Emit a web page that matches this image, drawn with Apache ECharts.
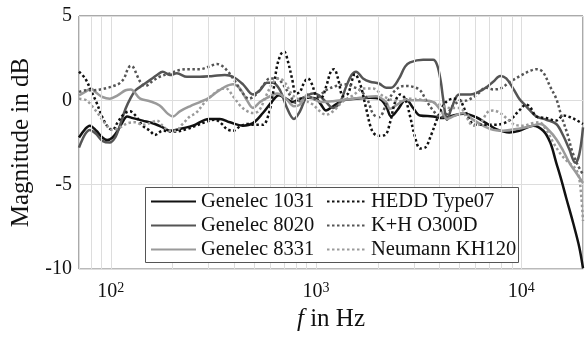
<!DOCTYPE html>
<html>
<head>
<meta charset="utf-8">
<script src="https://cdn.jsdelivr.net/npm/echarts@6/dist/echarts.min.js"></script>
<style>
  html, body { margin: 0; padding: 0; background: #fff; }
  #chart { width: 586px; height: 337px; }
</style>
</head>
<body>
<div id="chart"></div>
<script>
// [frequency in Hz, magnitude in dB]
const genelec1031 = [
  [70, -2.2], [75, -1.7], [79, -1.5], [85, -1.8], [91, -2.2], [96, -2.35], [102, -2.2], [108, -1.8],
  [114, -1.3], [120, -0.95], [128, -1.05], [143, -1.2], [164, -1.4], [179, -1.6], [194, -1.8],
  [217, -1.7], [251, -1.5], [301, -1.1], [340, -1.1], [381, -1.3], [440, -1.5], [493, -1.35],
  [551, -0.75], [617, 0], [660, 0.3], [714, 0.1], [772, -0.1], [835, 0.1], [914, 0.15], [1000, 0.1],
  [1058, -0.25], [1119, -0.6], [1211, -0.35], [1355, 0], [1567, 0.1], [1834, 0.15], [2028, 0.1],
  [2196, -0.35], [2323, -0.95], [2484, -0.6], [2748, 0.05], [2972, -0.45], [3215, -0.9], [3722, -0.95],
  [4164, -1.05], [4660, -0.9], [5212, -0.8], [6031, -1.0], [6749, -1.35], [7551, -1.7], [8738, -1.9],
  [9777, -1.8], [11443, -1.5], [12803, -1.8], [13850, -2.5], [14817, -3.7], [15670, -4.7],
  [16582, -5.8], [17939, -7.3], [19184, -8.7], [20000, -9.95]
];
const genelec8020 = [
  [70, -2.8], [75, -2.0], [79, -1.75], [85, -2.0], [91, -2.4], [99, -2.5], [105, -2.2], [110, -1.6],
  [118, -0.5], [125, 0.15], [132, 0.6], [139, 0.8], [155, 1.2], [168, 1.5], [179, 1.7], [194, 1.5],
  [210, 1.6], [235, 1.4], [272, 1.4], [315, 1.45], [360, 1.5], [394, 1.4], [441, 0.95], [493, 0.35],
  [533, 0.6], [577, 1.05], [617, 1.05], [668, 0.6], [722, -0.45], [781, -1.1], [835, -0.65],
  [894, 0.15], [967, 0.4], [1034, 0.3], [1119, -0.1], [1211, -0.45], [1310, -0.1], [1401, 0.8],
  [1490, 1.5], [1567, 1.7], [1695, 1.3], [1834, 1.1], [2028, 1.0], [2196, 0.75], [2323, 0.75],
  [2541, 1.3], [2717, 2.0], [2874, 2.25], [3326, 2.4], [3722, 2.4], [3890, 2.1], [4052, 1.15],
  [4164, 0.1], [4355, -1.15], [4580, -0.45], [4984, 0.35], [5637, 0.35], [6525, 0.65], [7302, 1.1],
  [7900, 1.45], [8450, 1.3], [9139, 0.7], [9777, 0.1], [10578, -0.35], [11835, -0.95], [13243, -1.15],
  [14817, -1.4], [16032, -2.1], [17152, -2.9], [18344, -3.7], [19184, -3.2], [20000, -1.6]
];
const genelec8331 = [
  [70, 0.3], [75, 0.5], [80, 0.7], [85, 0.45], [91, 0.2], [99, 0.1], [108, 0.3], [118, 0.6],
  [125, 0.65], [139, 0.1], [155, -0.05], [173, -0.3], [190, -0.8], [201, -0.95], [217, -0.65],
  [243, -0.35], [272, -0.1], [301, 0.15], [329, 0.5], [360, 0.8], [394, 0.95], [426, 0.7], [461, 0],
  [493, -0.45], [533, -0.1], [577, 0.15], [645, 0.4], [714, 0.1], [781, -0.35], [835, -0.25],
  [894, 0.25], [967, 0.1], [1058, -0.1], [1211, -0.05], [1401, 0.05], [1639, 0.15], [1962, 0.25],
  [2196, -0.1], [2296, -0.5], [2484, -0.25], [2717, 0], [3215, 0], [3722, -0.1], [4052, -0.6],
  [4355, -1.1], [4660, -0.95], [5212, -0.75], [5831, -1.15], [6525, -1.5], [7302, -1.75], [8169, -1.8],
  [9454, -1.7], [10940, -1.55], [12379, -1.4], [13697, -1.8], [14817, -2.3], [16032, -3.0],
  [17343, -3.8], [18555, -4.3], [20000, -4.9]
];
const heddType07 = [
  [70, 1.7], [75, 1.3], [80, 0.6], [85, -0.1], [91, -1.0], [97, -1.6], [102, -1.75], [108, -1.3],
  [116, -0.8], [124, -0.65], [132, -0.9], [143, -1.5], [155, -1.8], [164, -2.05], [179, -1.8],
  [205, -1.85], [235, -1.7], [260, -1.5], [287, -1.3], [322, -1.15], [348, -1.4], [368, -1.7],
  [394, -1.8], [426, -1.55], [461, -1.4], [510, -1.45], [551, -1.45], [590, -0.75], [617, 0.4],
  [645, 2.0], [675, 2.75], [698, 2.9], [730, 2.3], [764, 1.3], [799, 0.4], [835, 0.5], [875, 1.05],
  [914, 1.3], [956, 0.95], [1000, 0.3], [1058, 0.15], [1119, 0.8], [1184, 1.75], [1225, 1.85],
  [1280, 1.3], [1355, 0.25], [1432, 0.4], [1550, 1.55], [1639, 1.0], [1753, -0.45], [1876, -1.8],
  [2006, -2.1], [2171, -2.05], [2296, -1.3], [2428, -0.1], [2570, 0.35], [2717, 0.1], [2874, -0.95],
  [3041, -2.2], [3215, -2.85], [3402, -2.8], [3640, -2.05], [3937, -0.95], [4258, -0.15], [4660, 0.1],
  [4984, 0.05], [5330, -0.6], [5700, -1.3], [6099, -1.45], [6525, -1.45], [7551, -1.45], [8738, -1.2],
  [9777, -0.6], [10578, -0.25], [11064, -0.4], [11835, -0.95], [13243, -1.05], [14817, -1.2],
  [16032, -0.9], [17343, -1.0], [18760, -1.2], [20000, -1.4]
];
const khO300D = [
  [70, 0.5], [76, 0.6], [83, 0.6], [89, 0.65], [97, 0.75], [103, 0.85], [110, 1.0], [116, 1.3],
  [121, 1.85], [125, 2.05], [129, 1.95], [134, 1.5], [140, 1.05], [147, 0.85], [160, 1.15],
  [173, 1.4], [194, 1.6], [217, 1.8], [243, 1.85], [272, 1.85], [301, 2.0], [329, 2.15], [348, 2.05],
  [376, 1.65], [407, 1.05], [441, 0.4], [471, 0.1], [510, 0.35], [551, 0.85], [596, 1.3], [645, 1.3],
  [690, 0.95], [747, 0.3], [799, -0.15], [864, 0.15], [914, 0.35], [967, 0.05], [1046, 0.3],
  [1119, 0.6], [1252, 0.85], [1401, 0.95], [1516, 0.8], [1639, 0.6], [1774, 0.1], [1897, -0.8],
  [2028, -1.0], [2196, -0.25], [2375, 0.45], [2570, 0.8], [2748, 0.85], [2972, 0.8], [3215, 0.6],
  [3441, 0], [3722, -0.6], [4052, -1.0], [4355, -0.8], [4660, -0.3], [5040, -0.05], [5450, 0],
  [6031, 0.3], [6749, 0.75], [7302, 0.65], [7900, 0.7], [8836, 1.1], [9888, 1.45], [11064, 1.75],
  [11967, 1.85], [12803, 1.65], [13850, 0.8], [14817, 0.1], [15670, -0.9], [16800, -2.0],
  [17700, -3.0], [18800, -3.8], [20000, -4.4]
];
const neumannKH120 = [
  [70, 0.1], [76, 0], [85, -0.65], [95, -1.45], [102, -1.75], [111, -1.6], [121, -1.35], [132, -1.3],
  [143, -1.45], [155, -1.35], [168, -1.2], [179, -1.5], [194, -1.8], [207, -1.8], [224, -1.4],
  [243, -0.95], [260, -0.75], [290, -0.05], [315, 0.35], [340, 0.65], [364, 0.7], [394, 0.25],
  [426, -0.3], [456, -0.6], [493, -0.75], [528, -0.6], [570, 0.25], [617, 1.05], [660, 1.3],
  [706, 1.05], [764, 0.35], [826, 0.05], [894, -0.05], [967, -0.25], [1034, -0.6], [1119, -0.85],
  [1211, -0.65], [1355, -0.05], [1516, 0.3], [1695, 0.7], [1897, 0.7], [2122, 0.25], [2375, 0],
  [2570, -0.05], [2843, 0.1], [3215, 0.05], [3600, -0.05], [4100, -0.3], [4505, -0.45], [5040, -0.45],
  [5391, -0.95], [5831, -1.5], [6290, -1.4], [6860, -0.7], [7302, -0.6], [7900, -0.75], [8550, -1.1],
  [9340, -1.45], [10228, -1.5], [11310, -1.35], [12240, -1.3], [13243, -1.75], [14326, -2.5],
  [15500, -3.15], [16582, -3.55], [17700, -3.85], [18555, -4.1], [19184, -4.65], [19620, -5.7],
  [20000, -7.15]
];

const seriesNames = ['Genelec 1031', 'Genelec 8020', 'Genelec 8331', 'HEDD Type07', 'K+H O300D', 'Neumann KH120'];
const seriesData = [genelec1031, genelec8020, genelec8331, heddType07, khO300D, neumannKH120];
const minorGridFreqs = [80, 90, 200, 300, 400, 500, 600, 700, 800, 900,
  2000, 3000, 4000, 5000, 6000, 7000, 8000, 9000];

const FONT = 'Liberation Serif';
const colors = ['#111111', '#555555', '#9a9a9a', '#111111', '#555555', '#9a9a9a'];
const dots = [2.5, 2.5];

const chart = echarts.init(document.getElementById('chart'));

const lineSeries = seriesNames.map((name, i) => ({
  name,
  type: 'line',
  data: seriesData[i],
  symbol: 'none',
  smooth: 0.35,
  z: 3,
  itemStyle: { color: colors[i] },
  lineStyle: { color: colors[i], width: 2.5, type: i < 3 ? 'solid' : dots, cap: 'butt' },
}));

// minor vertical grid lines (log decades)
const gridSeries = {
  name: 'grid',
  type: 'line',
  data: [],
  z: 1,
  silent: true,
  markLine: {
    silent: true,
    symbol: 'none',
    label: { show: false },
    animation: false,
    lineStyle: { color: '#dddddd', width: 1, type: 'solid' },
    data: minorGridFreqs.map(f => ({ xAxis: f })),
  },
};

const legendCommon = {
  orient: 'vertical',
  top: 191,
  padding: 0,
  itemHeight: 10,
  itemGap: 3,
  z: 20,
  itemStyle: { opacity: 0 },
  textStyle: { fontFamily: FONT, fontSize: 20.5, color: '#111', lineHeight: 20 },
};

chart.setOption({
  animation: false,
  backgroundColor: '#fff',
  grid: {
    left: 79, right: 3, top: 16, bottom: 63,
    show: true, borderColor: '#555', borderWidth: 1,
  },
  xAxis: {
    type: 'log',
    logBase: 10,
    min: 70,
    max: 20000,
    axisLine: { show: false },
    axisTick: { show: false },
    splitLine: { show: true, lineStyle: { color: '#dddddd', width: 1 } },
    axisLabel: {
      showMinLabel: false,
      showMaxLabel: false,
      margin: 12,
      color: '#111',
      formatter: v => '{b|10}{s|' + Math.round(Math.log10(v)) + '}',
      rich: {
        b: { fontFamily: FONT, fontSize: 20, color: '#111' },
        s: { fontFamily: FONT, fontSize: 14, color: '#111', verticalAlign: 'bottom', padding: [0, 0, 8, 0] },
      },
    },
    name: '{i|f} in Hz',
    nameLocation: 'middle',
    nameGap: 28,
    nameTextStyle: {
      fontFamily: FONT, fontSize: 25, color: '#111',
      rich: { i: { fontFamily: FONT, fontSize: 25, fontStyle: 'italic', color: '#111' } },
    },
  },
  yAxis: {
    type: 'value',
    min: -10,
    max: 5,
    interval: 5,
    axisLine: { show: false },
    axisTick: { show: false },
    splitLine: { show: true, lineStyle: { color: '#dddddd', width: 1 } },
    axisLabel: { fontFamily: FONT, fontSize: 20, color: '#111', margin: 7 },
    name: 'Magnitude in dB',
    nameLocation: 'middle',
    nameGap: 45,
    nameTextStyle: { fontFamily: FONT, fontSize: 25, color: '#111' },
  },
  legend: [
    Object.assign({}, legendCommon, { left: 150, itemWidth: 45, data: seriesNames.slice(0, 3) }),
    Object.assign({}, legendCommon, { left: 326, itemWidth: 39, data: seriesNames.slice(3) }),
  ],
  graphic: [{
    type: 'rect',
    z: 10,
    shape: { x: 145.5, y: 187.5, width: 373, height: 75 },
    style: { fill: '#fff', stroke: '#555', lineWidth: 1 },
  }],
  series: [gridSeries].concat(lineSeries),
});
</script>
</body>
</html>
